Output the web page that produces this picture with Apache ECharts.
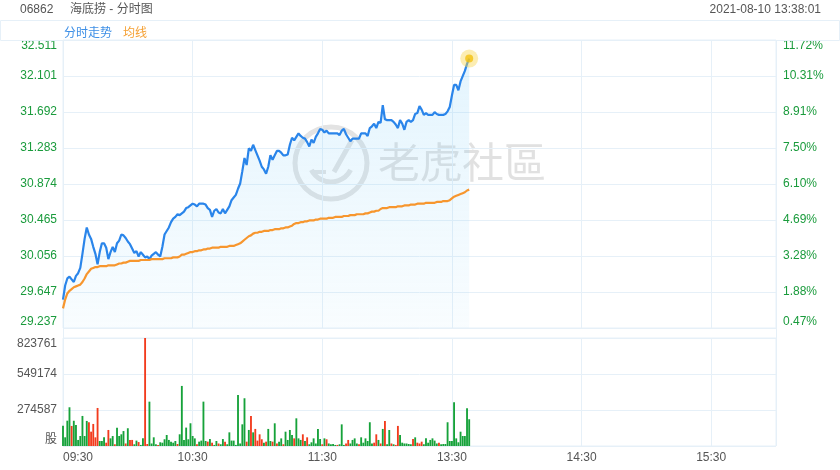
<!DOCTYPE html>
<html><head><meta charset="utf-8">
<script src="https://cdn.jsdelivr.net/npm/echarts@6/dist/echarts.min.js"></script>
<style>html,body{margin:0;padding:0;background:#fff}#c{width:840px;height:470px}</style>
</head><body><div id="c"></div>
<script>
const stockCode = '06862';
const stockName = '海底捞 - 分时图';
const stamp = '2021-08-10 13:38:01';
const seriesNames = ['分时走势', '均线'];
const watermark = '老虎社區';

const priceTicks = ['29.237','29.647','30.056','30.465','30.874','31.283','31.692','32.101','32.511'];
const pctTicks = ['0.47%','1.88%','3.28%','4.69%','6.10%','7.50%','8.91%','10.31%','11.72%'];
const volTicks = ['股','274587','549174','823761'];
const xTickLabels = ['09:30','10:30','11:30','13:30','14:30','15:30'];

const price = [29.56,29.72,29.80,29.82,29.79,29.76,29.83,29.86,29.92,30.08,
30.25,30.38,30.30,30.25,30.16,30.08,29.96,30.10,30.20,30.20,
30.15,30.02,30.10,30.16,30.10,30.20,30.23,30.30,30.29,30.26,
30.22,30.19,30.14,30.09,30.11,30.05,30.10,30.07,30.04,30.05,
30.02,30.06,30.08,30.10,30.07,30.05,30.16,30.30,30.34,30.38,
30.44,30.48,30.50,30.53,30.52,30.54,30.56,30.60,30.61,30.63,
30.65,30.64,30.62,30.65,30.65,30.65,30.64,30.60,30.58,30.50,
30.57,30.59,30.55,30.54,30.59,30.54,30.58,30.62,30.69,30.72,
30.75,30.82,30.88,31.02,31.17,31.09,31.28,31.25,31.32,31.26,
31.20,31.14,31.07,31.04,30.99,31.07,31.20,31.15,31.20,31.25,
31.25,31.23,31.20,31.20,31.21,31.32,31.40,31.37,31.41,31.45,
31.42,31.40,31.39,31.35,31.30,31.38,31.34,31.41,31.45,31.50,
31.49,31.46,31.48,31.45,31.45,31.45,31.45,31.45,31.43,31.48,
31.50,31.44,31.40,31.36,31.39,31.39,31.39,31.39,31.45,31.45,
31.45,31.42,31.51,31.53,31.56,31.51,31.58,31.57,31.77,31.61,
31.60,31.60,31.60,31.58,31.55,31.51,31.60,31.56,31.49,31.58,
31.60,31.58,31.60,31.67,31.68,31.76,31.72,31.66,31.68,31.66,
31.66,31.66,31.69,31.67,31.66,31.66,31.66,31.67,31.70,31.75,
31.88,32.00,32.00,31.94,32.04,32.10,32.16,32.24,32.30];

const avg = [29.46,29.56,29.63,29.66,29.68,29.70,29.71,29.72,29.73,29.76,
29.80,29.85,29.88,29.91,29.92,29.93,29.93,29.94,29.94,29.94,
29.94,29.95,29.95,29.95,29.95,29.96,29.97,29.97,29.98,29.98,
29.99,30.00,30.00,30.00,30.00,30.00,30.01,30.01,30.01,30.01,
30.01,30.02,30.02,30.02,30.02,30.02,30.02,30.03,30.03,30.03,
30.03,30.04,30.04,30.04,30.05,30.07,30.07,30.08,30.09,30.10,
30.10,30.11,30.11,30.12,30.12,30.13,30.13,30.14,30.14,30.15,
30.15,30.15,30.15,30.16,30.16,30.16,30.16,30.17,30.17,30.17,
30.18,30.19,30.20,30.22,30.24,30.26,30.28,30.29,30.31,30.32,
30.32,30.33,30.33,30.34,30.34,30.34,30.35,30.35,30.36,30.36,
30.36,30.37,30.37,30.38,30.38,30.39,30.40,30.42,30.43,30.43,
30.44,30.44,30.45,30.45,30.46,30.46,30.46,30.47,30.47,30.48,
30.48,30.48,30.48,30.49,30.49,30.49,30.50,30.50,30.50,30.50,
30.51,30.51,30.51,30.52,30.52,30.52,30.53,30.53,30.53,30.53,
30.54,30.54,30.55,30.56,30.56,30.57,30.57,30.59,30.60,30.60,
30.60,30.61,30.61,30.61,30.61,30.62,30.62,30.62,30.63,30.63,
30.63,30.64,30.64,30.64,30.65,30.65,30.65,30.65,30.66,30.66,
30.66,30.66,30.66,30.67,30.67,30.67,30.68,30.68,30.68,30.69,
30.71,30.73,30.74,30.75,30.76,30.77,30.78,30.80,30.81];

const volume = [155200,66300,193100,295400,153000,192600,160400,46200,76500,229300,
76100,191200,181000,109400,168200,66000,290100,38300,38000,66400,
25100,122300,58400,76000,13200,140100,76300,89200,114000,19300,
135400,46100,46300,13100,41200,30000,8200,58300,823761,15100,
338200,19100,66300,13000,8100,28400,25200,51300,84100,46200,
33100,25300,38200,15100,89300,458200,46100,140300,51200,173400,
76200,58100,13300,33200,41100,338400,38100,33300,53200,25100,
8300,38200,19100,13200,53100,33300,13100,104200,41300,41100,
8200,389100,19200,165300,364200,33100,122400,229200,104100,130300,
41200,89100,51300,25200,33100,130200,38300,33200,173100,19300,
33200,58100,13300,109200,46100,122300,84200,58300,211100,58200,
46300,89200,38100,66200,13300,28100,58200,19100,130300,53200,
13100,58300,51200,19300,13100,15200,8100,8300,13200,165100,
8200,19300,46100,19200,46300,58100,19100,13300,66200,25100,
58200,38300,181200,19100,25300,89100,46200,19300,130100,191200,
13300,122100,19200,13100,8300,153200,84100,25300,19200,19100,
15300,13100,53200,66100,25300,19200,33100,13300,58200,25100,
46200,58300,41100,19300,25100,13200,15100,15300,181100,38200,
38300,333100,58200,28300,109100,76300,76100,288200,204100];

const volDir = [1,1,1,1,-1,1,1,1,1,1,
1,1,-1,-1,-1,-1,-1,1,1,1,
-1,-1,1,1,-1,1,1,1,1,-1,
1,-1,-1,1,1,-1,1,1,-1,-1,
1,1,1,1,-1,1,1,1,1,1,
1,1,1,-1,1,1,1,1,1,1,
1,1,-1,1,1,1,1,-1,1,-1,
1,1,-1,1,1,-1,1,1,1,1,
1,1,1,1,1,-1,1,-1,1,-1,
-1,-1,-1,1,-1,1,1,-1,1,-1,
1,1,-1,1,1,1,1,-1,1,1,
1,-1,1,-1,1,1,1,1,1,1,
-1,1,-1,1,1,1,1,-1,1,1,
1,-1,-1,1,1,1,1,-1,1,1,
1,1,1,1,-1,-1,1,-1,1,-1,
1,1,-1,1,-1,-1,1,1,1,1,
1,1,-1,1,-1,-1,-1,1,1,1,
1,1,1,1,-1,1,1,1,1,1,
1,1,1,1,1,1,1,1,1];

// trading-session minute categories (HK: 09:30-12:00, 13:01-16:00)
function pad(n){ return (n < 10 ? '0' : '') + n; }
const times = [];
for (let m = 9*60+30; m <= 12*60; m++) times.push(pad(Math.floor(m/60)) + ':' + pad(m%60));
for (let m = 13*60+1; m <= 16*60; m++) times.push(pad(Math.floor(m/60)) + ':' + pad(m%60));

const yMin = +priceTicks[0], yMax = +priceTicks[priceTicks.length-1];
const yStep = (yMax - yMin) / (priceTicks.length - 1);
const vMax = +volTicks[volTicks.length-1], vStep = vMax / (volTicks.length - 1);

const GRID = '#e6f0f8';
const GREEN_TXT = '#1a9b3c';
const BLUE = '#2a85ea', ORANGE = '#f7962e';
const UP = '#16a23a', DOWN = '#f23b1d';
const FONT = 'Arial, "Liberation Sans", "Noto Sans CJK SC", sans-serif';

const chart = echarts.init(document.getElementById('c'), null, {renderer: 'canvas'});
const last = price.length - 1;

chart.setOption({
  animation: false,
  textStyle: {fontFamily: FONT},
  legend: {
    left: 54, top: 23, icon: 'none', itemWidth: 0, itemHeight: 0, itemGap: 6,
    selectedMode: false,
    textStyle: {fontSize: 12, fontFamily: FONT},
    data: [{name: seriesNames[0], textStyle: {color: '#3d8fe6'}},
           {name: seriesNames[1], textStyle: {color: '#f5a033'}}]
  },
  grid: [
    {left: 63, right: 64, top: 40, height: 288, show: true, borderColor: GRID, borderWidth: 1, backgroundColor: 'transparent'},
    {left: 63, right: 64, top: 338, height: 108, show: true, borderColor: GRID, borderWidth: 1, backgroundColor: 'transparent'}
  ],
  xAxis: [
    {type: 'category', gridIndex: 0, data: times, boundaryGap: false,
     axisLine: {show: false}, axisTick: {show: false}, axisLabel: {show: false},
     splitLine: {show: true, interval: (i, v) => v !== xTickLabels[0] && xTickLabels.includes(v), lineStyle: {color: GRID}}},
    {type: 'category', gridIndex: 1, data: times, boundaryGap: false,
     axisLine: {show: false}, axisTick: {show: false},
     axisLabel: {interval: (i, v) => xTickLabels.includes(v), color: '#555', fontSize: 12, margin: 6, alignMinLabel: 'left', fontFamily: FONT},
     splitLine: {show: true, interval: (i, v) => v !== xTickLabels[0] && xTickLabels.includes(v), lineStyle: {color: GRID}}}
  ],
  yAxis: [
    {type: 'value', gridIndex: 0, min: yMin, max: yMax, interval: yStep, position: 'left',
     axisLine: {show: false}, axisTick: {show: false},
     axisLabel: {color: GREEN_TXT, fontSize: 12, margin: 6, fontFamily: FONT,
       verticalAlignMinLabel: 'bottom', verticalAlignMaxLabel: 'top',
       formatter: v => priceTicks[Math.round((v - yMin) / yStep)] || ''},
     splitLine: {show: true, lineStyle: {color: GRID}}},
    {type: 'value', gridIndex: 0, min: yMin, max: yMax, interval: yStep, position: 'right',
     axisLine: {show: false}, axisTick: {show: false},
     axisLabel: {color: GREEN_TXT, fontSize: 12, margin: 7, fontFamily: FONT,
       verticalAlignMinLabel: 'bottom', verticalAlignMaxLabel: 'top',
       formatter: v => pctTicks[Math.round((v - yMin) / yStep)] || ''},
     splitLine: {show: false}},
    {type: 'value', gridIndex: 1, min: 0, max: vMax, interval: vStep,
     axisLine: {show: false}, axisTick: {show: false},
     axisLabel: {color: '#555', fontSize: 12, margin: 6, fontFamily: FONT,
       verticalAlignMinLabel: 'bottom', verticalAlignMaxLabel: 'top',
       formatter: v => volTicks[Math.round(v / vStep)] || ''},
     splitLine: {show: true, lineStyle: {color: GRID}}}
  ],
  series: [
    {name: seriesNames[0], type: 'line', xAxisIndex: 0, yAxisIndex: 0, data: price,
     symbol: 'none', z: 3, lineStyle: {color: BLUE, width: 2.2}, itemStyle: {color: BLUE},
     areaStyle: {origin: 'start', color: new echarts.graphic.LinearGradient(0, 0, 0, 1, [
       {offset: 0, color: 'rgba(125,205,248,0.30)'}, {offset: 1, color: 'rgba(125,205,248,0.07)'}])}},
    {name: seriesNames[1], type: 'line', xAxisIndex: 0, yAxisIndex: 0, data: avg,
     symbol: 'none', z: 4, lineStyle: {color: ORANGE, width: 2.2}, itemStyle: {color: ORANGE}},
    {type: 'scatter', xAxisIndex: 0, yAxisIndex: 0, data: [[last, price[last]]], symbolSize: 18, z: 5,
     itemStyle: {color: 'rgba(248,214,80,0.55)'}, silent: true},
    {type: 'scatter', xAxisIndex: 0, yAxisIndex: 0, data: [[last, price[last]]], symbolSize: 8, z: 6,
     itemStyle: {color: '#f2c010'}, silent: true},
    {type: 'bar', xAxisIndex: 1, yAxisIndex: 2, barWidth: '86%',
     data: volume.map((v, i) => ({value: v, itemStyle: {color: volDir[i] > 0 ? UP : DOWN}}))}
  ],
  graphic: [
    {type: 'rect', shape: {x: 0.5, y: 20.5, width: 839, height: 20}, style: {fill: 'none', stroke: GRID, lineWidth: 1}, z: 1},
    {type: 'line', shape: {x1: 63.5, y1: 40, x2: 63.5, y2: 446}, style: {stroke: GRID, lineWidth: 1}, z: 1},
    {type: 'line', shape: {x1: 776.5, y1: 40, x2: 776.5, y2: 446}, style: {stroke: GRID, lineWidth: 1}, z: 1},
    {type: 'text', x: 20, y: 10, style: {text: stockCode, fill: '#555', font: '12px ' + FONT, verticalAlign: 'middle'}},
    {type: 'text', x: 70, y: 10, style: {text: stockName, fill: '#555', font: '12px ' + FONT, verticalAlign: 'middle'}},
    {type: 'text', x: 821, y: 10, style: {text: stamp, fill: '#555', font: '12px ' + FONT, align: 'right', verticalAlign: 'middle'}},
    {type: 'group', z: 1, children: [
      {type: 'circle', shape: {cx: 331, cy: 163, r: 36}, style: {fill: 'none', stroke: '#e3e3e3', lineWidth: 5}},
      {type: 'arc', shape: {cx: 331, cy: 160, r: 22, startAngle: Math.PI * 0.15, endAngle: Math.PI * 0.85}, style: {fill: 'none', stroke: '#e3e3e3', lineWidth: 5}},
      {type: 'line', shape: {x1: 352, y1: 140, x2: 334, y2: 172}, style: {stroke: '#e3e3e3', lineWidth: 5}},
      {type: 'line', shape: {x1: 312, y1: 172, x2: 326, y2: 172}, style: {stroke: '#e3e3e3', lineWidth: 4}},
      {type: 'text', x: 378, y: 162, style: {text: watermark, fill: '#e1e1e1', font: '42px "Noto Sans CJK TC", "Noto Sans CJK SC", sans-serif', verticalAlign: 'middle'}}
    ]}
  ]
});
</script>
</body></html>
